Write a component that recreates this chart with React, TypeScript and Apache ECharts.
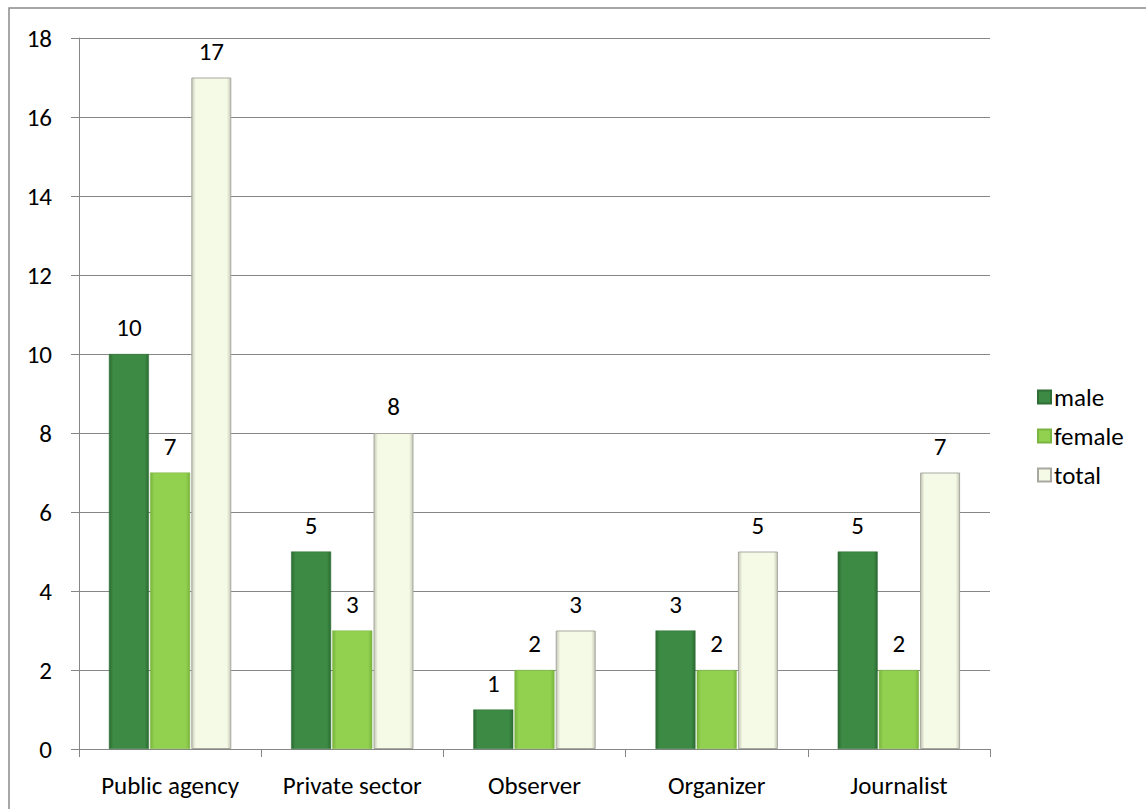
import React, { useEffect, useRef } from "react";
import * as echarts from "echarts";

const categories = ["Public agency", "Private sector", "Observer", "Organizer", "Journalist"];
const maleValues = [10, 5, 1, 3, 5];
const femaleValues = [7, 3, 2, 2, 2];
const totalValues = [17, 8, 3, 5, 7];

const FONT = "Carlito, Calibri, Lato, sans-serif";
const FS = 25;

function grad(edge: string, mid: string) {
  return new echarts.graphic.LinearGradient(0, 0, 1, 0, [
    { offset: 0, color: edge },
    { offset: 0.1, color: mid },
    { offset: 0.9, color: mid },
    { offset: 1, color: edge },
  ]);
}

export default function App() {
  const ref = useRef<HTMLDivElement>(null);
  useEffect(() => {
    document.body.style.margin = "0";
    const chart = echarts.init(ref.current!, undefined, { renderer: "svg" });
    const label = {
      show: true,
      position: "top" as const,
      distance: 14,
      color: "#000",
      fontFamily: FONT,
      fontSize: FS,
    };
    chart.setOption({
      animation: false,
      backgroundColor: "#fff",
      textStyle: { fontFamily: FONT },
      graphic: [
        {
          type: "rect",
          shape: { x: 9, y: 8, width: 1200, height: 900 },
          style: { fill: "none", stroke: "#8a8a8a", lineWidth: 1.5 },
          silent: true,
          z: -1,
        },
      ],
      grid: { left: 79, right: 156, top: 38, bottom: 60 },
      legend: {
        orient: "vertical",
        left: 1032,
        top: 379,
        itemWidth: 13,
        itemHeight: 13,
        itemGap: 13,
        icon: "rect",
        textStyle: { fontFamily: FONT, fontSize: FS, lineHeight: 26, color: "#000", padding: [0, 0, 0, -2] },
        data: ["male", "female", "total"],
      },
      xAxis: {
        type: "category",
        data: categories,
        axisLine: { show: true, lineStyle: { color: "#868686", width: 1 } },
        axisTick: { show: true, length: 8, lineStyle: { color: "#868686" } },
        axisLabel: { color: "#000", fontFamily: FONT, fontSize: FS, margin: 24 },
      },
      yAxis: {
        type: "value",
        min: 0,
        max: 18,
        interval: 2,
        axisLine: { show: true, lineStyle: { color: "#868686", width: 1 } },
        axisTick: { show: true, length: 8, lineStyle: { color: "#868686" } },
        axisLabel: { color: "#000", fontFamily: FONT, fontSize: FS, margin: 27 },
        splitLine: { show: true, lineStyle: { color: "#868686", width: 1 } },
      },
      series: [
        {
          name: "male",
          type: "bar",
          data: maleValues,
          barWidth: 40,
          barGap: "3%",
          itemStyle: { color: grad("#2c6a32", "#3c8a44"), borderColor: "#2f6f35", borderWidth: 0.5 },
          label,
        },
        {
          name: "female",
          type: "bar",
          data: femaleValues,
          barWidth: 40,
          barGap: "3%",
          itemStyle: { color: grad("#78b43c", "#92d050"), borderColor: "#7ab540", borderWidth: 0.5 },
          label,
        },
        {
          name: "total",
          type: "bar",
          data: totalValues,
          barWidth: 40,
          barGap: "3%",
          itemStyle: { color: grad("#c4c7b6", "#f5fae6"), borderColor: "#a8a8a0", borderWidth: 1 },
          label,
        },
      ],
    });
    return () => chart.dispose();
  }, []);
  return <div ref={ref} style={{ width: 1146, height: 809 }} />;
}
